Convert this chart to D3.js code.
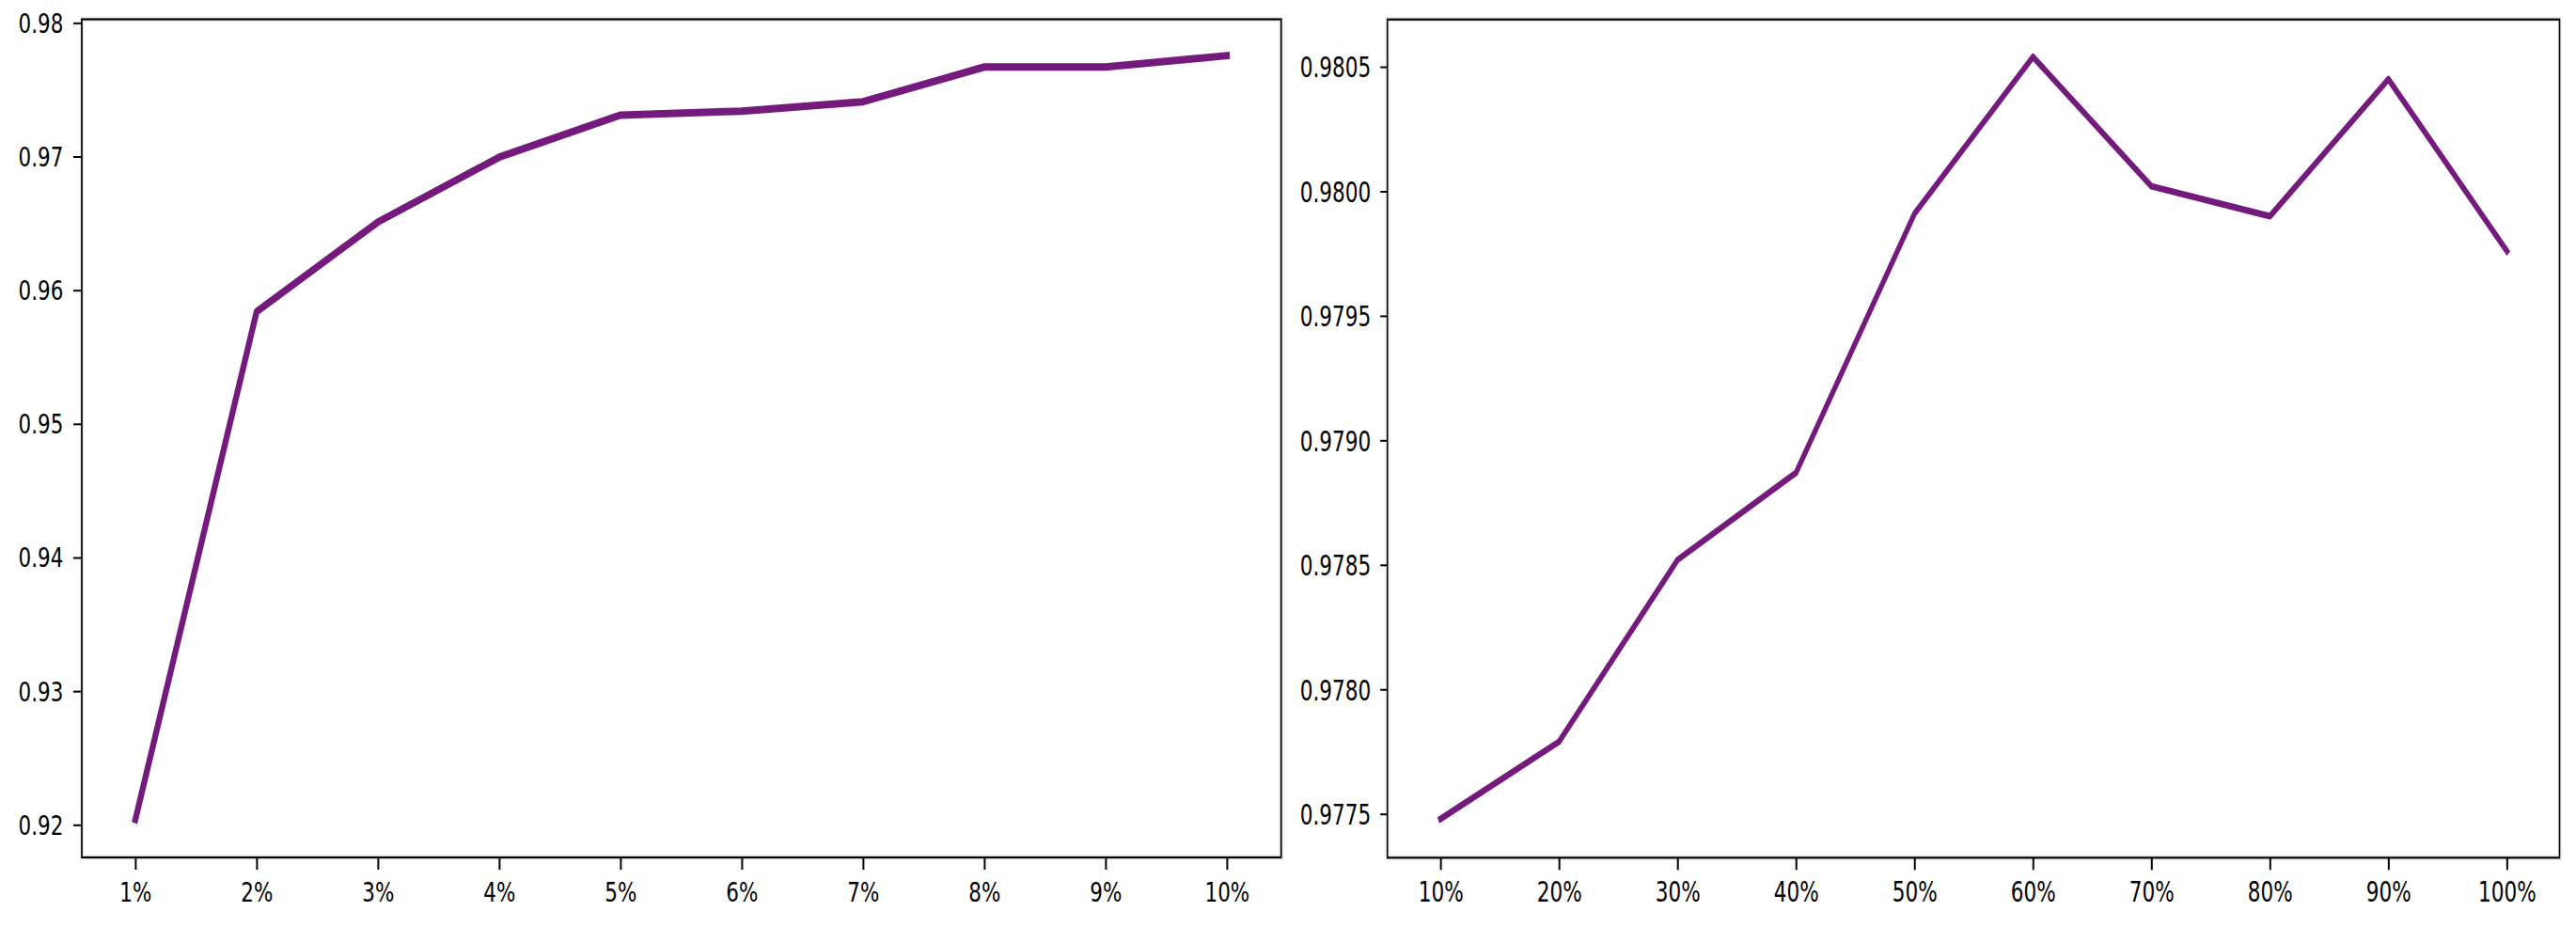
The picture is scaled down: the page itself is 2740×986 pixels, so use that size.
<!DOCTYPE html>
<html><head><meta charset="utf-8">
<script src="https://cdn.jsdelivr.net/npm/d3@7"></script>
<style>body{margin:0;background:#fff} svg{display:block}</style>
</head>
<body>
<svg id="c" width="2740" height="986"></svg>
<script>
const leftCategories = ["1%","2%","3%","4%","5%","6%","7%","8%","9%","10%"];
const leftValues = [0.9204, 0.9584, 0.9651, 0.96995, 0.9731, 0.9734, 0.9741, 0.9767, 0.9767, 0.97755];
const leftYTicks = [0.92, 0.93, 0.94, 0.95, 0.96, 0.97, 0.98];

const rightCategories = ["10%","20%","30%","40%","50%","60%","70%","80%","90%","100%"];
const rightValues = [0.97748, 0.97779, 0.97852, 0.97887, 0.97991, 0.98054, 0.98002, 0.97990, 0.98045, 0.97976];
const rightYTicks = [0.9775, 0.9780, 0.9785, 0.9790, 0.9795, 0.9800, 0.9805];

const svg = d3.select("#c");
const LINE_COLOR = "#751a7d";

function panel(cfg) {
  const sx = cfg.sx;
  const g = svg.append("g").attr("transform", `translate(${cfg.x0},0) scale(${sx},1)`);
  const W = (cfg.x1 - cfg.x0) / sx;
  const x = d3.scalePoint().domain(cfg.cats)
    .range([(cfg.px0 - cfg.x0) / sx, (cfg.px1 - cfg.x0) / sx]);
  const y = d3.scaleLinear().domain(cfg.yDomain).range([cfg.y1, cfg.y0]);

  g.append("rect").attr("x", 0).attr("y", cfg.y0).attr("width", W).attr("height", cfg.y1 - cfg.y0)
    .attr("fill", "none").attr("stroke", "#ececec").attr("stroke-width", 6);

  const line = d3.line().x((d, i) => x(cfg.cats[i])).y(d => y(d));
  g.append("path").datum(cfg.values).attr("d", line)
    .attr("fill", "none").attr("stroke", LINE_COLOR).attr("stroke-width", cfg.lw)
    .attr("stroke-linejoin", "round").attr("stroke-linecap", "square");

  g.append("rect").attr("x", 0).attr("y", cfg.y0).attr("width", W).attr("height", cfg.y1 - cfg.y0)
    .attr("fill", "none").attr("stroke", "#000").attr("stroke-width", 2.2);

  const ya = g.append("g").call(
    d3.axisLeft(y).tickValues(cfg.yTicks).tickFormat(d3.format(cfg.fmt))
      .tickSize(cfg.ytick / sx).tickPadding((cfg.ylabGap - cfg.ytick) / sx));
  ya.select(".domain").remove();
  ya.selectAll(".tick line").attr("stroke", "#000").attr("stroke-width", 2);
  ya.selectAll(".tick text").attr("font-family", "DejaVu Sans").attr("font-size", cfg.fs)
    .attr("fill", "#000").attr("dy", "0.36em");

  const xa = g.append("g").attr("transform", `translate(0,${cfg.y1})`).call(
    d3.axisBottom(x).tickSize(13).tickPadding(4));
  xa.select(".domain").remove();
  xa.selectAll(".tick line").attr("stroke", "#000").attr("stroke-width", 2 / sx);
  xa.selectAll(".tick text").attr("font-family", "DejaVu Sans").attr("font-size", cfg.fs)
    .attr("fill", "#000").attr("y", 47).attr("dy", "0");
}

panel({
  cats: leftCategories, values: leftValues, yTicks: leftYTicks, fmt: ".2f",
  x0: 87, x1: 1362.7, y0: 20.5, y1: 912, px0: 144, px1: 1305,
  yDomain: [0.91756, 0.98027], sx: 0.78, fs: 27.5, lw: 8, ytick: 9, ylabGap: 19.7
});

panel({
  cats: rightCategories, values: rightValues, yTicks: rightYTicks, fmt: ".4f",
  x0: 1475.7, x1: 2722.5, y0: 20.7, y1: 912.3, px0: 1532.3, px1: 2666.5,
  yDomain: [0.977324, 0.980690], sx: 0.72, fs: 30, lw: 7, ytick: 7.5, ylabGap: 17.4
});
</script>
</body></html>
